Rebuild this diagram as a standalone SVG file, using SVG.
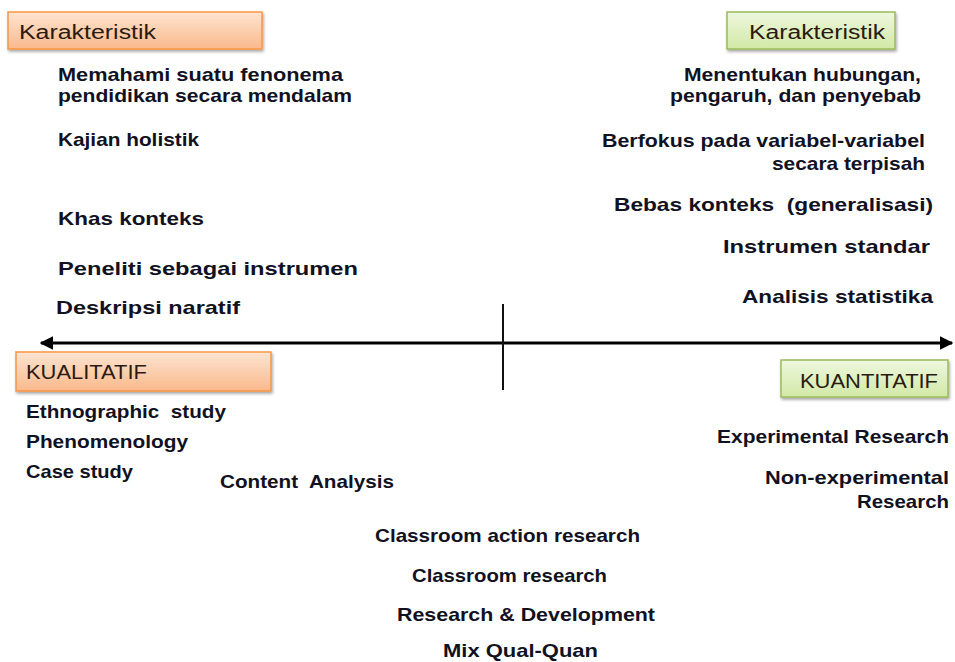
<svg xmlns="http://www.w3.org/2000/svg" width="955" height="662" viewBox="0 0 955 662">
<style>
.t{font-family:"Liberation Sans",Arial,sans-serif;font-weight:bold;font-size:19px;fill:#111122}
.h{font-family:"Liberation Sans",Arial,sans-serif;font-size:20px;fill:#2a1a10}
.r{text-anchor:end}
.ob{fill:url(#og);stroke:#f79646;stroke-width:1.5}
.gb{fill:url(#gg);stroke:#9bbb59;stroke-width:1.5}
</style>
<defs>
<linearGradient id="og" x1="0" y1="0" x2="0" y2="1"><stop offset="0" stop-color="#fde4d2"/><stop offset="1" stop-color="#fab98b"/></linearGradient>
<linearGradient id="gg" x1="0" y1="0" x2="0" y2="1"><stop offset="0" stop-color="#eef7de"/><stop offset="1" stop-color="#d2e9a6"/></linearGradient>
<filter id="sh" x="-10%" y="-30%" width="120%" height="170%"><feDropShadow dx="1" dy="2" stdDeviation="1.5" flood-color="#000" flood-opacity="0.35"/></filter>
<marker id="ah" viewBox="0 0 10 10" refX="9" refY="5" markerWidth="4.5" markerHeight="4.5" orient="auto-start-reverse"><path d="M0,0 L10,5 L0,10 z" fill="#000"/></marker>
</defs>
<g id="connectors">
<line x1="41" y1="343" x2="952" y2="343" stroke="#000" stroke-width="3" marker-start="url(#ah)" marker-end="url(#ah)"/>
<line x1="503" y1="304" x2="503" y2="390" stroke="#111" stroke-width="2"/>
</g>
<g id="box-kar-left"><rect class="ob" x="8" y="12" width="254" height="37" filter="url(#sh)"/><text class="h" x="19" y="39" textLength="137" lengthAdjust="spacingAndGlyphs">Karakteristik</text></g>
<g id="box-kar-right"><rect class="gb" x="727" y="12" width="168" height="37" filter="url(#sh)"/><text class="h" x="749" y="39" textLength="136" lengthAdjust="spacingAndGlyphs">Karakteristik</text></g>
<g id="box-kualitatif"><rect class="ob" x="16" y="352" width="255" height="39" filter="url(#sh)"/><text class="h" x="26" y="379" textLength="121" lengthAdjust="spacingAndGlyphs">KUALITATIF</text></g>
<g id="box-kuantitatif"><rect class="gb" x="781" y="360" width="167" height="37" filter="url(#sh)"/><text class="h" x="800" y="388" textLength="138" lengthAdjust="spacingAndGlyphs">KUANTITATIF</text></g>
<g id="kual-char">
<text class="t" x="58" y="81" textLength="285" lengthAdjust="spacingAndGlyphs">Memahami suatu fenonema</text>
<text class="t" x="58" y="102" textLength="294" lengthAdjust="spacingAndGlyphs">pendidikan secara mendalam</text>
<text class="t" x="58" y="146" textLength="141" lengthAdjust="spacingAndGlyphs">Kajian holistik</text>
<text class="t" x="58" y="225" textLength="146" lengthAdjust="spacingAndGlyphs">Khas konteks</text>
<text class="t" x="58" y="275" textLength="300" lengthAdjust="spacingAndGlyphs">Peneliti sebagai instrumen</text>
<text class="t" x="56" y="314" textLength="184" lengthAdjust="spacingAndGlyphs">Deskripsi naratif</text>
</g>
<g id="kuan-char">
<text class="t" x="684" y="81" textLength="237" lengthAdjust="spacingAndGlyphs">Menentukan hubungan,</text>
<text class="t" x="670" y="102" textLength="251" lengthAdjust="spacingAndGlyphs">pengaruh, dan penyebab</text>
<text class="t" x="602" y="147" textLength="323" lengthAdjust="spacingAndGlyphs">Berfokus pada variabel-variabel</text>
<text class="t" x="772" y="170" textLength="153" lengthAdjust="spacingAndGlyphs">secara terpisah</text>
<text class="t" x="614" y="211" textLength="319" lengthAdjust="spacingAndGlyphs" xml:space="preserve">Bebas konteks  (generalisasi)</text>
<text class="t" x="723" y="253" textLength="207" lengthAdjust="spacingAndGlyphs">Instrumen standar</text>
<text class="t" x="742" y="303" textLength="191" lengthAdjust="spacingAndGlyphs">Analisis statistika</text>
</g>
<g id="kual-types">
<text class="t" x="26" y="418" textLength="200" lengthAdjust="spacingAndGlyphs" xml:space="preserve">Ethnographic  study</text>
<text class="t" x="26" y="448" textLength="162" lengthAdjust="spacingAndGlyphs">Phenomenology</text>
<text class="t" x="26" y="478" textLength="107" lengthAdjust="spacingAndGlyphs">Case study</text>
<text class="t" x="220" y="488" textLength="174" lengthAdjust="spacingAndGlyphs" xml:space="preserve">Content  Analysis</text>
</g>
<g id="mixed-types">
<text class="t" x="375" y="542" textLength="265" lengthAdjust="spacingAndGlyphs">Classroom action research</text>
<text class="t" x="412" y="582" textLength="195" lengthAdjust="spacingAndGlyphs">Classroom research</text>
<text class="t" x="397" y="621" textLength="258" lengthAdjust="spacingAndGlyphs">Research &amp; Development</text>
<text class="t" x="443" y="657" textLength="155" lengthAdjust="spacingAndGlyphs">Mix Qual-Quan</text>
</g>
<g id="kuan-types">
<text class="t" x="717" y="443" textLength="232" lengthAdjust="spacingAndGlyphs">Experimental Research</text>
<text class="t" x="765" y="484" textLength="184" lengthAdjust="spacingAndGlyphs">Non-experimental</text>
<text class="t" x="857" y="508" textLength="92" lengthAdjust="spacingAndGlyphs">Research</text>
</g>
</svg>
